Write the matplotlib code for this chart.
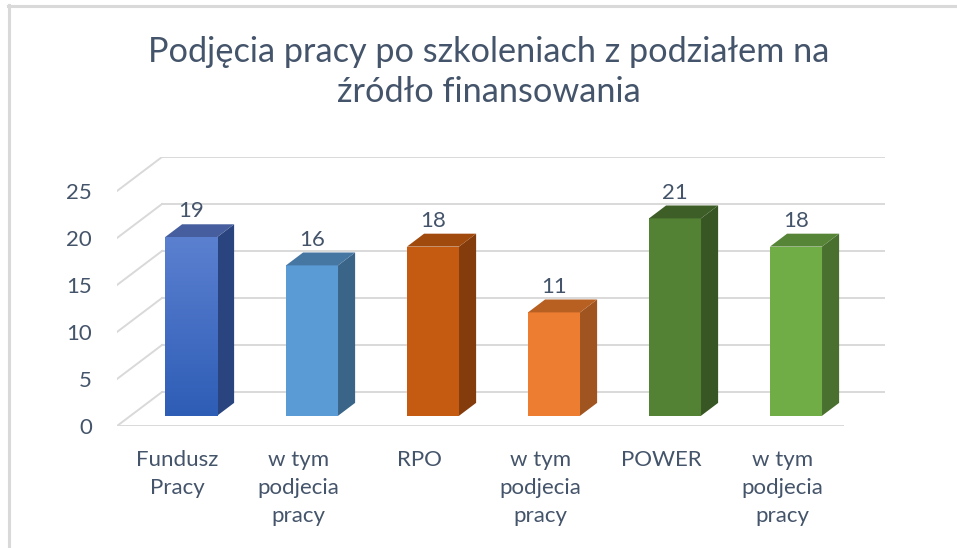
import matplotlib.pyplot as plt
import numpy as np
from matplotlib.patches import Polygon, Rectangle
from matplotlib.lines import Line2D
from matplotlib.colors import LinearSegmentedColormap

plt.rcParams['font.family'] = ['Lato', 'DejaVu Sans']

# dane
kategorie = ['Fundusz\nPracy', 'w tym\npodjecia\npracy', 'RPO',
             'w tym\npodjecia\npracy', 'POWER', 'w tym\npodjecia\npracy']
wartosci = [19, 16, 18, 11, 21, 18]
kol_przod = ['#3F6BC6', '#5B9BD5', '#C55A11', '#ED7D31', '#548235', '#70AD47']
kol_bok = ['#2A4480', '#3A6588', '#843C0C', '#A0541F', '#375623', '#4A7030']
kol_gora = ['#465E9E', '#4676A2', '#A04A0E', '#B85F22', '#3D5E27', '#568537']
yticks = [0, 5, 10, 15, 20, 25]
tekst = '#44546A'
siatka = '#D9D9D9'

W, H = 957, 548
fig = plt.figure(figsize=(W / 100, H / 100), dpi=100)

# obramowanie wykresu
fig.add_artist(Line2D([8.5 / W, 8.5 / W], [0, 1 - 5 / H], color=siatka, lw=2.2))
fig.add_artist(Line2D([8 / W, 1], [1 - 5.5 / H, 1 - 5.5 / H], color=siatka, lw=2.2))

# osie: x w jednostkach kategorii (121 px), y w jednostkach wartosci (9.4 px)
px_x, px_y = 121.0, 9.4
x0_px, y0_px = 117, 426
xmin, xmax = -0.5, 5.5 + 45 / px_x
ymax = (y0_px - 157) / px_y
ax = fig.add_axes([x0_px / W, (H - y0_px) / H,
                   (xmax - xmin) * px_x / W, ymax * px_y / H])
for s in ax.spines.values():
    s.set_visible(False)

# glebokosc (pseudo 3D)
DX, DY = 45 / px_x, 34 / px_y
z1, z2 = 0.30, 0.68

# siatka: linie na tylnej scianie i ukosne po lewej
for v in yticks:
    ax.plot([xmin, xmin + DX], [v, v + DY], color=siatka, lw=1.4, zorder=1)
    ax.plot([xmin + DX, xmax - 0.03], [v + DY, v + DY], color=siatka, lw=1.4, zorder=1)
ax.plot([xmin, 5.5], [0, 0], color=siatka, lw=1.4, zorder=1)

szer = 0.43
for i, (v, cf, cb, ct) in enumerate(zip(wartosci, kol_przod, kol_bok, kol_gora)):
    xl = i - szer / 2 + DX * z1
    xr = xl + szer
    yb = DY * z1
    yt = yb + v
    dx, dy = DX * (z2 - z1), DY * (z2 - z1)
    front = Rectangle((xl, yb), szer, v, facecolor=cf, edgecolor='none', zorder=3)
    ax.add_patch(front)
    if i == 0:
        grad = np.linspace(0, 1, 256).reshape(-1, 1)
        cm = LinearSegmentedColormap.from_list('g', ['#2E5DB6', '#5B80D0'])
        im = ax.imshow(grad, cmap=cm, extent=(xl, xr, yb, yt), origin='lower',
                       aspect='auto', zorder=3.5)
        im.set_clip_path(front)
    ax.add_patch(Polygon([(xr, yb), (xr + dx, yb + dy), (xr + dx, yt + dy), (xr, yt)],
                         closed=True, facecolor=cb, edgecolor='none', zorder=3))
    ax.add_patch(Polygon([(xl, yt), (xr, yt), (xr + dx, yt + dy), (xl + dx, yt + dy)],
                         closed=True, facecolor=ct, edgecolor='none', zorder=3))
    ax.text(i + DX * z1, yt + dy + 0.3, str(v), ha='center', va='bottom',
            fontsize=16, color=tekst, zorder=4)

ax.set_xlim(xmin, xmax)
ax.set_ylim(0, ymax)
ax.set_yticks(yticks)
ax.set_yticklabels([str(t) for t in yticks])
ax.set_xticks(range(len(kategorie)))
ax.set_xticklabels(kategorie, linespacing=1.5)
ax.tick_params(axis='y', length=0, pad=18, labelsize=16, labelcolor=tekst)
ax.tick_params(axis='x', length=0, pad=17, labelsize=16, labelcolor=tekst)
for lab in ax.get_xticklabels():
    lab.set_va('top')

fig.text(489 / W, 1 - 72 / H, 'Podjęcia pracy po szkoleniach z podziałem na\nźródło finansowania',
         ha='center', va='center', fontsize=24.7, color=tekst, linespacing=1.3)

fig.savefig('out.png', dpi=100)
